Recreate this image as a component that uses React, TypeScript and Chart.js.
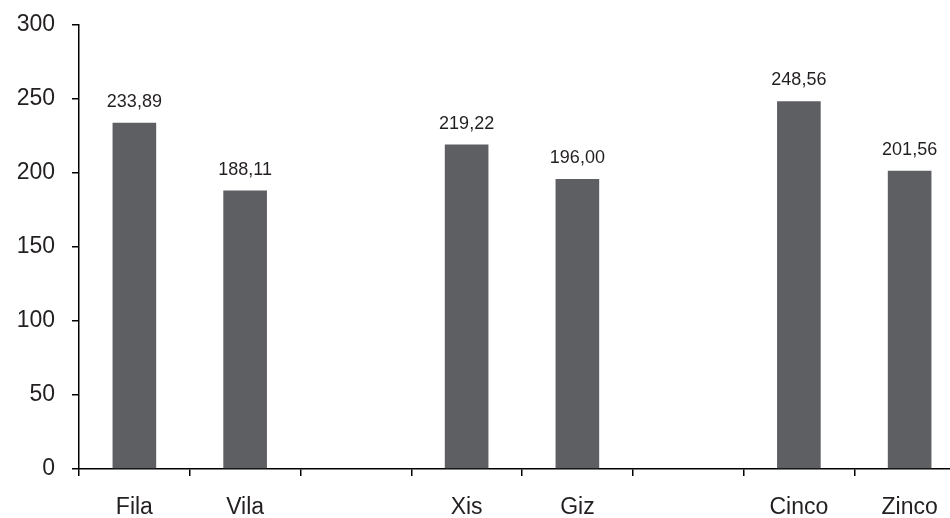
import React, { useEffect, useRef } from 'react';
import { Chart, registerables } from 'chart.js';

Chart.register(...registerables);

const categories = ['Fila', 'Vila', '', 'Xis', 'Giz', '', 'Cinco', 'Zinco'];
const values: (number | null)[] = [233.89, 188.11, null, 219.22, 196.0, null, 248.56, 201.56];
const yMin = 0;
const yMax = 300;
const yStep = 50;

const FONT = '"Liberation Sans", Arial, Helvetica, sans-serif';
const TEXT = '#231f20';
const BAR = '#5e5f63';

const valueLabels = {
  id: 'valueLabels',
  afterDatasetsDraw(chart: any) {
    const ctx = chart.ctx;
    const meta = chart.getDatasetMeta(0);
    ctx.save();
    ctx.font = `18px ${FONT}`;
    ctx.fillStyle = TEXT;
    ctx.textAlign = 'center';
    ctx.textBaseline = 'alphabetic';
    meta.data.forEach((el: any, i: number) => {
      const v = values[i];
      if (v == null) return;
      ctx.fillText(v.toFixed(2).replace('.', ','), el.x, el.y - 16);
    });
    ctx.restore();
  },
};

export default function App() {
  const ref = useRef<HTMLCanvasElement>(null);
  useEffect(() => {
    if (!ref.current) return;
    const chart = new Chart(ref.current, {
      type: 'bar',
      data: {
        labels: categories,
        datasets: [
          {
            data: values,
            backgroundColor: BAR,
            borderWidth: 0,
            categoryPercentage: 1,
            barPercentage: 0.394,
          },
        ],
      },
      options: {
        responsive: false,
        animation: false,
        layout: { padding: { top: 25, left: 0, right: 0, bottom: 0 } },
        plugins: { legend: { display: false }, tooltip: { enabled: false } },
        scales: {
          x: {
            offset: true,
            grid: {
              offset: true,
              drawOnChartArea: false,
              drawTicks: true,
              tickLength: 7,
              color: '#000',
              lineWidth: 1.5,
            },
            border: { display: true, color: '#000', width: 1.5 },
            ticks: {
              font: { size: 23, family: FONT },
              color: TEXT,
              padding: 18,
              maxRotation: 0,
              autoSkip: false,
            },
            afterFit: (s: any) => {
              s.height = 49;
            },
          },
          y: {
            min: yMin,
            max: yMax,
            grid: {
              drawOnChartArea: false,
              drawTicks: true,
              tickLength: 7,
              color: '#000',
              lineWidth: 1.5,
            },
            border: { display: true, color: '#000', width: 1.5 },
            ticks: {
              stepSize: yStep,
              font: { size: 23, family: FONT },
              color: TEXT,
              padding: 17,
            },
            afterFit: (s: any) => {
              s.width = 79;
              s.paddingTop = 0;
              s.paddingBottom = 0;
            },
          },
        },
      },
      plugins: [valueLabels],
    });
    return () => chart.destroy();
  }, []);
  return (
    <div style={{ position: 'absolute', left: 0, top: 0, width: 950, height: 518, overflow: 'hidden', background: '#fff' }}>
      <canvas ref={ref} width={965} height={518} style={{ display: 'block' }} />
    </div>
  );
}
